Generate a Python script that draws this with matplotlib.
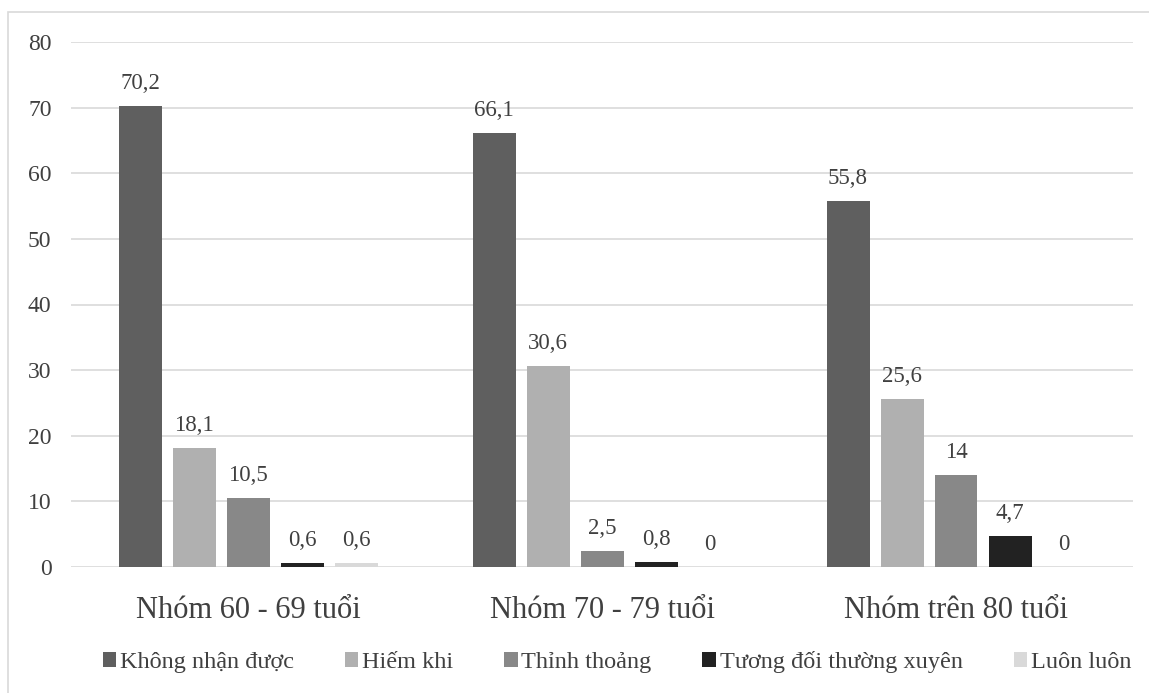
import matplotlib
matplotlib.use("Agg")
import matplotlib.pyplot as plt
from matplotlib.patches import Rectangle
import numpy as np

plt.rcParams['font.family'] = ['Liberation Serif', 'DejaVu Serif']

groups = ["Nhóm 60 - 69 tuổi", "Nhóm 70 - 79 tuổi", "Nhóm trên 80 tuổi"]
series = ["Không nhận được", "Hiếm khi", "Thỉnh thoảng",
          "Tương đối thường xuyên", "Luôn luôn"]
values = [
    [70.2, 66.1, 55.8],
    [18.1, 30.6, 25.6],
    [10.5, 2.5, 14],
    [0.6, 0.8, 4.7],
    [0.6, 0, 0],
]
colors = ["#5f5f5f", "#b0b0b0", "#888888", "#222222", "#d9d9d9"]
yticks = [0, 10, 20, 30, 40, 50, 60, 70, 80]

W, H = 1149, 693
fig = plt.figure(figsize=(W / 100, H / 100), dpi=100)
ax = fig.add_axes([71 / W, 1 - 567 / H, (1133 - 71) / W, (567 - 42) / H])

# outer chart frame
fig.patches.append(Rectangle((8 / W, -0.05), 1.2, 1 - 12 / H + 0.05,
                             transform=fig.transFigure, fill=False,
                             edgecolor="#d9d9d9", linewidth=1.2))

x = np.arange(len(groups))
step = 54 / 354
width = 43 / 354
text_color = "#404040"

for i, (name, vals, col) in enumerate(zip(series, values, colors)):
    pos = x + (i - 2) * step
    ax.bar(pos, vals, width=width, color=col, label=name, zorder=3)
    for px, v in zip(pos, vals):
        label = f"{v:g}".replace(".", ",")
        ax.text(px, v + 2.6, label, ha="center", va="baseline",
                fontsize=16.5, color=text_color)

ax.set_xlim(-0.5, 2.5)
ax.set_ylim(0, 80)
ax.set_yticks(yticks)
ax.set_xticks(x)
ax.set_xticklabels(groups, fontsize=22, color=text_color)
ax.tick_params(axis="x", length=0, pad=21)
ax.tick_params(axis="y", length=0, pad=14, labelsize=17, labelcolor=text_color)
ax.grid(axis="y", color="#d9d9d9", linewidth=1.2, zorder=0)
for s in ax.spines.values():
    s.set_visible(False)

fig.legend(loc="center", bbox_to_anchor=(617 / W, 1 - 662 / H), ncol=5,
           frameon=False, fontsize=17.5, handlelength=0.55, handleheight=0.55,
           handletextpad=0.15, columnspacing=2.1, labelcolor=text_color)

fig.savefig("out.png", dpi=100)
